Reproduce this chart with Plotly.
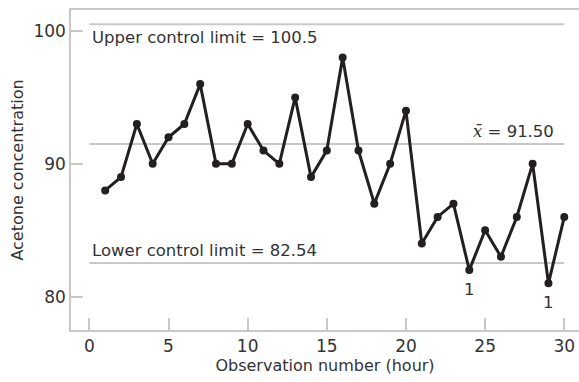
import plotly.graph_objects as go

observations = list(range(1, 31))
acetone = [88, 89, 93, 90, 92, 93, 96, 90, 90, 93, 91, 90, 95, 89, 91,
           98, 91, 87, 90, 94, 84, 86, 87, 82, 85, 83, 86, 90, 81, 86]
ucl = 100.5
center = 91.50
lcl = 82.54
x_ticks = [0, 5, 10, 15, 20, 25, 30]
y_ticks = [80, 90, 100]
flag_obs = [24, 29]

FONT = "DejaVu Sans"
GRID = "#c8c8c8"
INK = "#231f20"
TXT = "#333333"

fig = go.Figure()

for val in [ucl, center, lcl]:
    fig.add_trace(go.Scatter(x=[0, 30], y=[val, val], mode="lines",
                             line=dict(color=GRID, width=2), hoverinfo="skip",
                             showlegend=False))

fig.add_trace(go.Scatter(x=observations, y=acetone, mode="lines+markers",
                         line=dict(color=INK, width=3),
                         marker=dict(color=INK, size=8), showlegend=False))

ann_font = dict(family=FONT, size=16.5, color=TXT)
fig.add_annotation(x=0.05, y=ucl, text="Upper control limit = 100.5", xref="x", yref="y",
                   xanchor="left", yanchor="top", showarrow=False, font=ann_font, yshift=-2)
fig.add_annotation(x=0.05, y=lcl, text="Lower control limit = 82.54", xref="x", yref="y",
                   xanchor="left", yanchor="bottom", showarrow=False, font=ann_font, yshift=1)
fig.add_annotation(x=29.45, y=center,
                   text="<span style=\"font-family:'DejaVu Serif'\"><i>x\u0304</i></span> = 91.50",
                   xref="x", yref="y", xanchor="right", yanchor="bottom", showarrow=False,
                   font=ann_font, yshift=1)
for ob in flag_obs:
    fig.add_annotation(x=ob, y=acetone[ob - 1], text="1", xref="x", yref="y",
                       xanchor="center", yanchor="top", showarrow=False,
                       font=ann_font, yshift=-8)

fig.update_layout(
    width=579, height=382,
    margin=dict(l=71, r=0, t=10, b=52),
    plot_bgcolor="white", paper_bgcolor="white",
    font=dict(family=FONT, size=16, color=TXT),
    xaxis=dict(range=[-1.16, 30.93], tickvals=x_ticks, ticks="inside", ticklen=12,
               tickcolor=GRID, tickwidth=1.5, showline=True, linecolor=GRID, linewidth=1.5,
               mirror=True, showgrid=False, zeroline=False,
               title=dict(text="Observation number (hour)", font=dict(size=16), standoff=3),
               tickfont=dict(size=17)),
    yaxis=dict(range=[77.49, 101.58], tickvals=y_ticks, ticks="inside", ticklen=12,
               tickcolor=GRID, tickwidth=1.5, showline=True, linecolor=GRID, linewidth=1.5,
               mirror=False, showgrid=False, zeroline=False,
               title=dict(text="Acetone concentration", font=dict(size=16), standoff=6),
               tickfont=dict(size=17)),
)

fig.write_html("out.html")
